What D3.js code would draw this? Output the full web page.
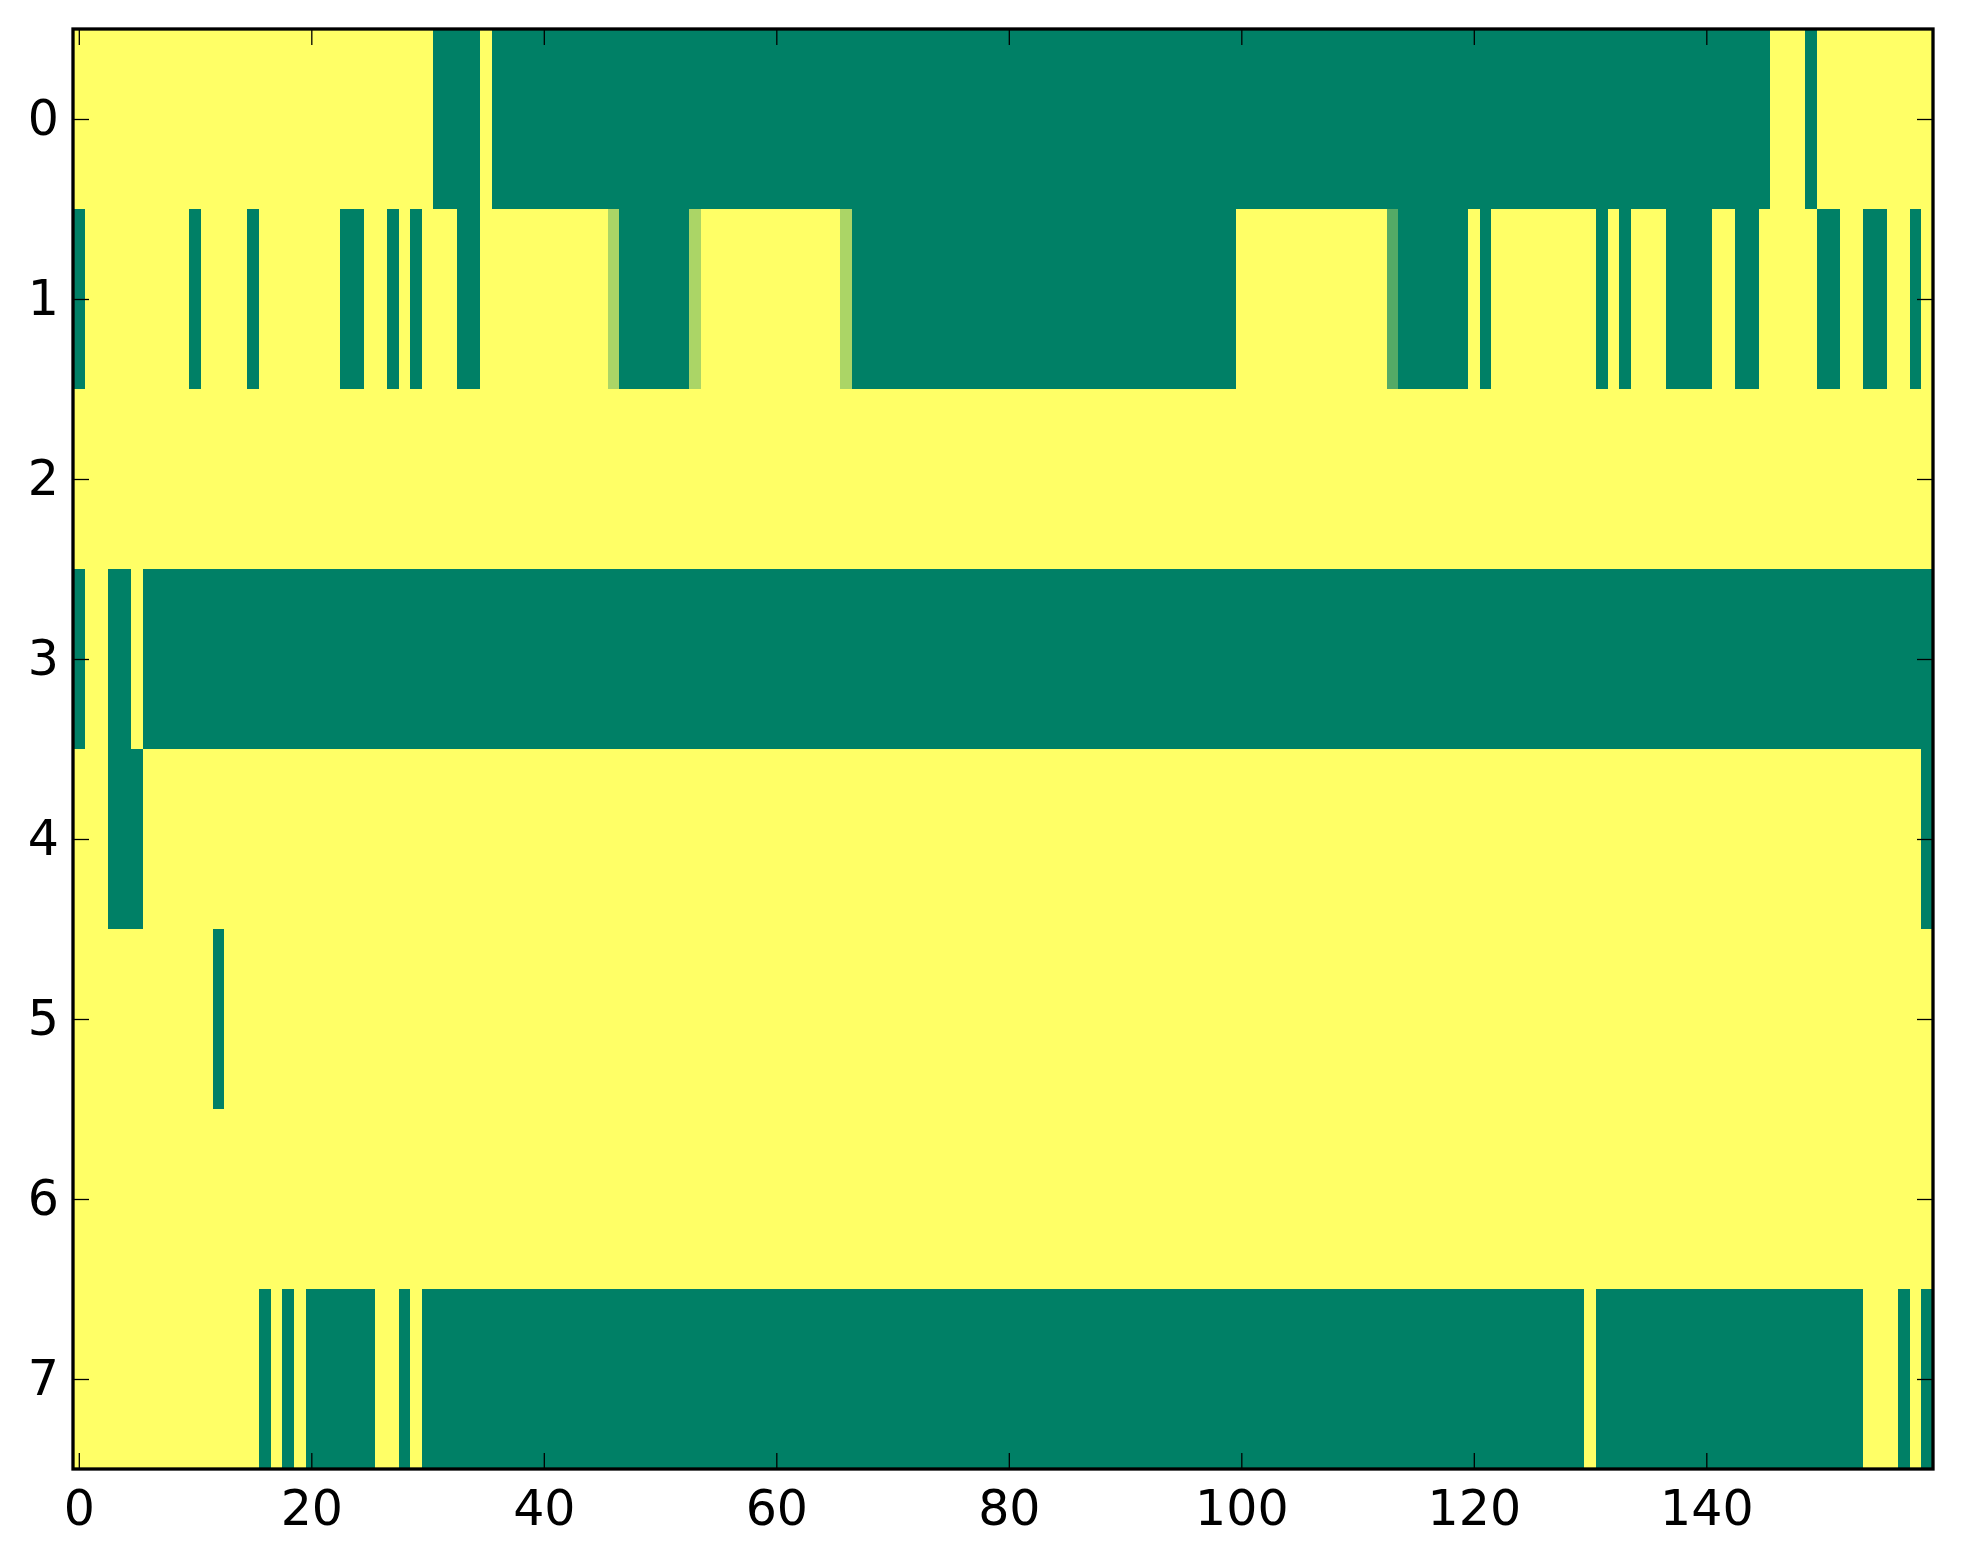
<!DOCTYPE html>
<html>
<head>
<meta charset="utf-8">
<script src="https://cdn.jsdelivr.net/npm/d3@7"></script>
<style>
  body { margin: 0; background: #fff; }
  .axis text { font-family: "DejaVu Sans", sans-serif; font-size: 49px; fill: #000; }
  .axis line { stroke: #000; stroke-width: 1.3px; }
  .axis path { display: none; }
</style>
</head>
<body>
<div id="chart"></div>
<script>
const width = 1963;
const height = 1564;
const margin = { top: 29, right: 30, bottom: 95, left: 73 };

const nRows = 8;
const nCols = 160;

// runs of non-zero cells per row: [firstCol, lastCol, value]
const row0 = [[31, 34, 1], [36, 145, 1], [149, 149, 1]];
const row1 = [[0, 0, 1], [10, 10, 1], [15, 15, 1], [23, 24, 1], [27, 27, 1], [29, 29, 1],
  [33, 34, 1], [46, 46, 0.33], [47, 52, 1], [53, 53, 0.33], [66, 66, 0.33], [67, 99, 1],
  [113, 113, 0.67], [114, 119, 1], [121, 121, 1], [131, 131, 1], [133, 133, 1],
  [137, 140, 1], [143, 144, 1], [150, 151, 1], [154, 155, 1], [158, 158, 1]];
const row2 = [];
const row3 = [[0, 0, 1], [3, 4, 1], [6, 159, 1]];
const row4 = [[3, 5, 1], [159, 159, 1]];
const row5 = [[12, 12, 1]];
const row6 = [];
const row7 = [[16, 16, 1], [18, 18, 1], [20, 25, 1], [28, 28, 1], [30, 129, 1],
  [131, 153, 1], [157, 157, 1], [159, 159, 1]];
const rowRuns = [row0, row1, row2, row3, row4, row5, row6, row7];

const xTicks = [0, 20, 40, 60, 80, 100, 120, 140];
const yTicks = [0, 1, 2, 3, 4, 5, 6, 7];

// build the full grid, zeros everywhere else
const cells = [];
rowRuns.forEach((runs, r) => {
  const vals = new Array(nCols).fill(0);
  runs.forEach(([a, b, v]) => { for (let c = a; c <= b; c++) vals[c] = v; });
  vals.forEach((v, c) => cells.push({ r, c, v }));
});

const x = d3.scaleLinear().domain([-0.5, nCols - 0.5]).range([margin.left, width - margin.right]);
const y = d3.scaleLinear().domain([-0.5, nRows - 0.5]).range([margin.top, height - margin.bottom]);
// summer_r colormap
const color = d3.scaleLinear().domain([0, 1]).range(["#ffff66", "#008066"]);

const svg = d3.select("#chart").append("svg")
  .attr("width", width)
  .attr("height", height);

svg.append("g")
  .selectAll("rect")
  .data(cells)
  .enter()
  .append("rect")
  .attr("x", d => x(d.c - 0.5))
  .attr("y", d => y(d.r - 0.5))
  .attr("width", d => x(d.c + 0.5) - x(d.c - 0.5))
  .attr("height", d => y(d.r + 0.5) - y(d.r - 0.5))
  .attr("fill", d => color(d.v))
  .attr("shape-rendering", "crispEdges");

const x0 = x.range()[0], x1 = x.range()[1];
const y0 = y.range()[0], y1 = y.range()[1];
const tick = 16;

svg.append("g").attr("class", "axis")
  .attr("transform", `translate(0,${y1})`)
  .call(d3.axisBottom(x).tickValues(xTicks).tickSize(-tick).tickPadding(21));

svg.append("g").attr("class", "axis")
  .attr("transform", `translate(0,${y0})`)
  .call(d3.axisTop(x).tickValues(xTicks).tickSize(-tick).tickFormat(""));

svg.append("g").attr("class", "axis")
  .attr("transform", `translate(${x0},0)`)
  .call(d3.axisLeft(y).tickValues(yTicks).tickSize(-tick).tickPadding(14));

svg.append("g").attr("class", "axis")
  .attr("transform", `translate(${x1},0)`)
  .call(d3.axisRight(y).tickValues(yTicks).tickSize(-tick).tickFormat(""));

svg.append("rect")
  .attr("x", x0)
  .attr("y", y0)
  .attr("width", x1 - x0)
  .attr("height", y1 - y0)
  .attr("fill", "none")
  .attr("stroke", "#000")
  .attr("stroke-width", 3.3);
</script>
</body>
</html>
